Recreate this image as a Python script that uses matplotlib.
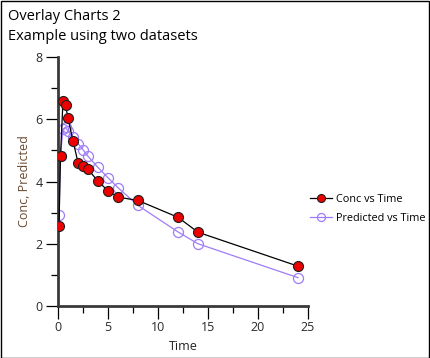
import matplotlib
matplotlib.use("Agg")
import matplotlib.pyplot as plt
from matplotlib.patches import Rectangle
from matplotlib.ticker import MultipleLocator

plt.rcParams["font.family"] = ["Open Sans", "DejaVu Sans"]

time = [0.1, 0.25, 0.5, 0.75, 1, 1.5, 2, 2.5, 3, 4, 5, 6, 8, 12, 14, 24]
conc = [2.58, 4.82, 6.60, 6.46, 6.03, 5.31, 4.61, 4.50, 4.39, 4.01, 3.70, 3.50,
        3.39, 2.85, 2.37, 1.28]
predicted = [2.93, 4.83, 5.68, 5.74, 5.62, 5.42, 5.22, 5.02, 4.81, 4.45, 4.12,
             3.80, 3.23, 2.38, 2.00, 0.91]

title_lines = ["Overlay Charts 2", "Example using two datasets"]
PURPLE = "#9f7cf7"

fig = plt.figure(figsize=(4.30, 3.58), dpi=100)
ax = fig.add_axes([58 / 430, 52 / 358, 250 / 430, 249 / 358])

ax.plot(time, conc, "-o", color="black", lw=0.9, ms=7.2,
        mfc="#ee0000", mec="#202020", mew=0.8, label="Conc vs Time", zorder=3)
ax.plot(time, predicted, "-o", color=PURPLE, lw=0.9, ms=7.2,
        mfc="none", mec=PURPLE, mew=0.9, label="Predicted vs Time", zorder=2)

ax.set_xlim(0, 25)
ax.set_ylim(0, 8)
ax.xaxis.set_major_locator(MultipleLocator(5))
ax.xaxis.set_minor_locator(MultipleLocator(2.5))
ax.yaxis.set_major_locator(MultipleLocator(2))
ax.yaxis.set_minor_locator(MultipleLocator(1))
for s in ("top", "right"):
    ax.spines[s].set_visible(False)
for s in ("left", "bottom"):
    ax.spines[s].set_linewidth(2)
    ax.spines[s].set_color("#3a3a3a")
ax.tick_params(which="major", length=9, width=0.9, color="black",
               labelsize=9, pad=2, labelcolor="#2a2a2a")
ax.tick_params(which="minor", length=5, width=0.9, color="black")

ax.set_xlabel("Time", fontsize=9, labelpad=4, color="#222222")
ax.set_ylabel("Conc, Predicted", fontsize=9, labelpad=3, color="#6a4a30")

ax.legend(loc="center left", bbox_to_anchor=(1.0, 0.39), frameon=False,
          fontsize=7.8, handlelength=2.0, labelspacing=0.7,
          handletextpad=0.4, borderaxespad=0.0, borderpad=0.2,
          markerscale=0.8)

fig.text(8 / 430, 1 - 17 / 358, title_lines[0], fontsize=10.5, va="center")
fig.text(8 / 430, 1 - 37 / 358, title_lines[1], fontsize=10.5, va="center")

fig.patches.append(Rectangle((0.5 / 430, 0.5 / 358), 428.5 / 430, 356.5 / 358,
                             transform=fig.transFigure, fill=False,
                             edgecolor="black", lw=1))

fig.savefig("out.png", dpi=100)
